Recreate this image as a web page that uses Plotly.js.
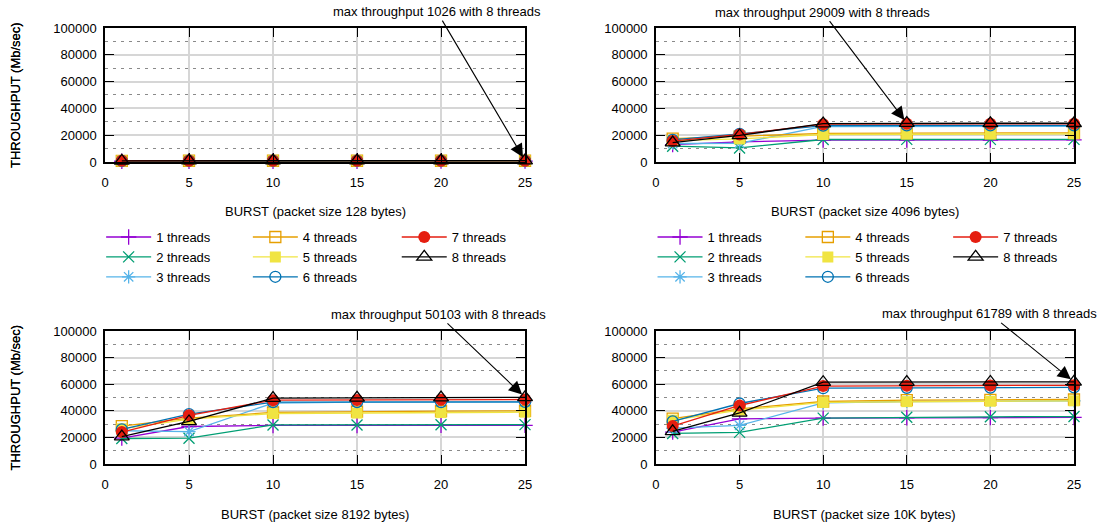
<!DOCTYPE html>
<html>
<head>
<meta charset="utf-8">
<script src="https://cdn.plot.ly/plotly-3.0.1.min.js"></script>
<style>
  html, body { margin: 0; padding: 0; background: #ffffff; }
  #chart { width: 1103px; height: 527px; }
</style>
</head>
<body>
<div id="chart"></div>
<script>
// Burst sizes on the x axis
const burst = [1, 5, 10, 15, 20, 25];
const threadNames = ['1 threads', '2 threads', '3 threads', '4 threads',
                     '5 threads', '6 threads', '7 threads', '8 threads'];
const packetSizes = ['128 bytes', '4096 bytes', '8192 bytes', '10K bytes'];

// Throughput (Mb/sec), one row per thread count, one column per burst size
const tput128 = [
  [540, 600, 610, 612, 614, 615],
  [690, 760, 770, 772, 775, 776],
  [780, 850, 860, 862, 865, 866],
  [860, 930, 940, 945, 946, 948],
  [880, 950, 960, 962, 964, 965],
  [900, 980, 990, 992, 995, 996],
  [920, 1000, 1010, 1012, 1015, 1018],
  [910, 1005, 1015, 1018, 1022, 1026]
];
const tput4096 = [
  [13000, 15000, 16300, 16400, 16400, 16500],
  [11800, 10500, 16800, 16900, 16900, 16900],
  [13800, 14000, 26500, 26600, 26600, 26600],
  [17500, 19000, 21300, 21500, 21600, 21800],
  [16000, 17200, 20500, 20800, 20900, 21000],
  [16500, 21000, 27200, 27300, 27300, 27300],
  [15600, 20600, 28200, 28500, 28500, 28500],
  [14500, 19800, 28700, 29009, 28900, 28900]
];
const tput8192 = [
  [19500, 28200, 29000, 29000, 29100, 29100],
  [19200, 19400, 29400, 29300, 29500, 29600],
  [25000, 24400, 45800, 46500, 46500, 46600],
  [28500, 34500, 38800, 39400, 39700, 40000],
  [26500, 33800, 38000, 38300, 38700, 39000],
  [26000, 37500, 46500, 46500, 46600, 46700],
  [24000, 36600, 48000, 48200, 48300, 48500],
  [20600, 32000, 49600, 49700, 49900, 50103]
];
const tput10k = [
  [24000, 34000, 34500, 34800, 34900, 35000],
  [23000, 23800, 34500, 35200, 35500, 35700],
  [27000, 29000, 46000, 47000, 47200, 47500],
  [34200, 41500, 47000, 48100, 48300, 48500],
  [33000, 40500, 46300, 46900, 47200, 47500],
  [32000, 45500, 57000, 57300, 57400, 57600],
  [28500, 44000, 58600, 58800, 59000, 59200],
  [24500, 38500, 61500, 61600, 61700, 61789]
];

const panels = [tput128, tput4096, tput8192, tput10k];

// gnuplot-like series styling
const FONT = 'Liberation Sans, Arial, sans-serif';
const colors = ['#9400d3', '#009e73', '#56b4e9', '#e69f00',
                '#f0e442', '#0072b2', '#e51e10', '#000000'];
const symbols = ['cross-thin', 'x-thin', 'asterisk', 'square-open',
                 'square', 'circle-open', 'circle', 'triangle-up-open'];
const sizes = [11, 11, 11, 11, 11, 11, 12, 13];

// Plot areas (paper fractions)
const xDomains = [[0.0952, 0.4760], [0.5947, 0.9737], [0.0952, 0.4760], [0.5947, 0.9737]];
const yDomains = [[0.6926, 0.9469], [0.6926, 0.9469], [0.1195, 0.3719], [0.1195, 0.3719]];

// Legends: three columns below each of the top panels
const legendCols = [[0, 1, 2], [3, 4, 5], [6, 7]];
const legendX = [[0.0917, 0.2247, 0.3597], [0.5916, 0.7256, 0.8596]];
const legendY = 0.5787;

// Arrow tail offsets (px) for the max-throughput notes
const arrowOffsets = [[-88, -149], [-84, -111], [-87, -83], [-84, -68]];

const traces = [];
panels.forEach((rows, p) => {
  const sfx = p === 0 ? '' : String(p + 1);
  rows.forEach((vals, t) => {
    let legendName = null;
    if (p < 2) {
      const col = legendCols.findIndex(c => c.includes(t));
      const idx = p * 3 + col;
      legendName = idx === 0 ? 'legend' : 'legend' + (idx + 1);
    }
    const tr = {
      type: 'scatter',
      mode: 'lines+markers',
      x: burst,
      y: vals,
      name: threadNames[t],
      xaxis: 'x' + sfx,
      yaxis: 'y' + sfx,
      cliponaxis: false,
      showlegend: p < 2,
      line: { color: colors[t], width: 1.3 },
      marker: {
        symbol: symbols[t],
        size: sizes[t],
        color: colors[t],
        line: { color: colors[t], width: (symbols[t] === 'circle' || symbols[t] === 'square') ? 0 : 1.3 }
      },
      hoverinfo: 'x+y+name'
    };
    if (legendName) tr.legend = legendName;
    traces.push(tr);
  });
});

const axisBase = {
  showline: true, linecolor: '#000', linewidth: 1.5, mirror: 'ticks',
  ticks: 'inside', ticklen: 9, tickwidth: 1.2, tickcolor: '#000',
  showgrid: true, gridcolor: '#d6d6d6', gridwidth: 1.6, zeroline: false,
  tickfont: { family: FONT, size: 13, color: '#000' }, fixedrange: true
};

const layout = {
  width: 1103, height: 527,
  margin: { l: 0, r: 0, t: 0, b: 0 },
  paper_bgcolor: '#fff', plot_bgcolor: '#fff',
  font: { family: FONT, size: 13, color: '#000' },
  showlegend: true,
  annotations: [],
  hovermode: 'closest'
};

panels.forEach((rows, p) => {
  const sfx = p === 0 ? '' : String(p + 1);
  layout['xaxis' + sfx] = Object.assign({}, axisBase, {
    domain: xDomains[p], anchor: 'y' + sfx,
    range: [0, 25], tick0: 0, dtick: 5, ticklabelstandoff: 8
  });
  layout['yaxis' + sfx] = Object.assign({}, axisBase, {
    domain: yDomains[p], anchor: 'x' + sfx,
    range: [0, 100000], tick0: 0, dtick: 20000, tickformat: 'd',
    ticklabelstandoff: 4,
    minor: { dtick: 10000, showgrid: true, gridcolor: '#8a8a8a',
             griddash: '3px,5px', gridwidth: 1, ticks: '' }
  });

  const xMid = (xDomains[p][0] + xDomains[p][1]) / 2;
  const yMid = (yDomains[p][0] + yDomains[p][1]) / 2;

  // axis titles
  layout.annotations.push({
    xref: 'paper', yref: 'paper', x: xMid, y: yDomains[p][0],
    yshift: -50, xanchor: 'center', yanchor: 'middle', showarrow: false,
    text: 'BURST (packet size ' + packetSizes[p] + ')',
    font: { family: FONT, size: 13, color: '#000' }
  });
  layout.annotations.push({
    xref: 'paper', yref: 'paper', x: 0.0145, y: yMid,
    xanchor: 'center', yanchor: 'middle', showarrow: false, textangle: -90,
    text: 'THROUGHPUT (Mb/sec)',
    font: { family: FONT, size: 13, color: '#000' }
  });

  // max-throughput note pointing at the best point
  let best = -Infinity, bt = 0, bi = 0;
  rows.forEach((vals, t) => vals.forEach((v, i) => {
    if (v > best) { best = v; bt = t; bi = i; }
  }));
  layout.annotations.push({
    xref: 'x' + sfx, yref: 'y' + sfx, x: burst[bi], y: best,
    ax: arrowOffsets[p][0], ay: arrowOffsets[p][1],
    text: 'max throughput ' + best + ' with ' + (bt + 1) + ' threads',
    showarrow: true, arrowhead: 2, arrowsize: 2.4, arrowwidth: 1.1,
    arrowcolor: '#000', standoff: 4,
    font: { family: FONT, size: 13, color: '#000' }
  });
});

// column legends
for (let p = 0; p < 2; p++) {
  for (let c = 0; c < 3; c++) {
    const idx = p * 3 + c;
    const key = idx === 0 ? 'legend' : 'legend' + (idx + 1);
    layout[key] = {
      x: legendX[p][c], y: legendY, xanchor: 'left', yanchor: 'top',
      orientation: 'v', bgcolor: 'rgba(0,0,0,0)', borderwidth: 0,
      itemwidth: 45, tracegroupgap: 0,
      font: { family: FONT, size: 13, color: '#000' }
    };
  }
}

Plotly.newPlot('chart', traces, layout, { displayModeBar: false, staticPlot: false });
</script>
</body>
</html>
